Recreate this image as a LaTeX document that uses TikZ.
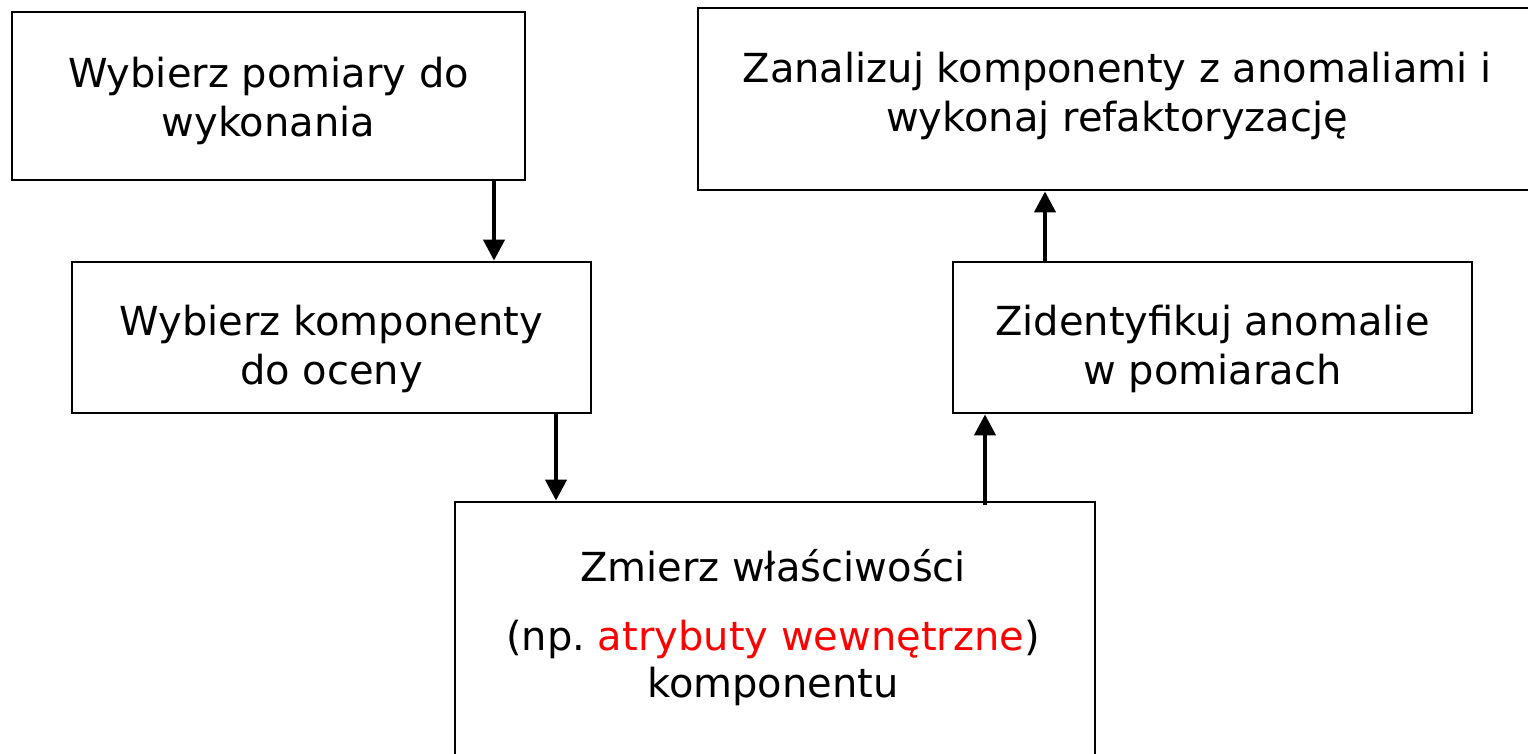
\documentclass[tikz,border=0pt]{standalone}
\usepackage{fontspec}
\setmainfont{DejaVu Sans}
\usetikzlibrary{arrows.meta}
\begin{document}
\begin{tikzpicture}[x=1pt,y=-1pt,
  box/.style={draw=black,line width=2.8pt,fill=white},
  txt/.style={align=center,inner sep=0pt,font=\fontsize{40}{49}\selectfont},
  arr/.style={line width=4.2pt,-{Triangle[length=21pt,width=21pt]}}]
\useasboundingbox (0,0) rectangle (1528,753);
\node[box,minimum width=513pt,minimum height=168pt] (b1) at (268.5,96) {};
\node[txt] (t1) at (268.5,101) {Wybierz pomiary do\\wykonania};
\node[box,minimum width=519pt,minimum height=151pt] (b2) at (331.5,337.5) {};
\node[txt] (t2) at (331.5,349) {Wybierz komponenty\\do oceny};
\node[box,minimum width=860pt,minimum height=182pt] (b3) at (1128,99) {};
\node[txt] (t3) at (1117,96) {Zanalizuj komponenty z anomaliami i\\wykonaj refaktoryzację};
\node[box,minimum width=519pt,minimum height=151pt] (b4) at (1212.5,337.5) {};
\node[txt] (t4) at (1212.5,349) {Zidentyfikuj anomalie\\w pomiarach};
\node[box,minimum width=640pt,minimum height=300pt] (b5) at (775,652) {};
\node[txt,font=\fontsize{40}{47}\selectfont] (t5) at (773,628) {Zmierz właściwości\\[22pt](np.\ \textcolor{red}{atrybuty wewnętrzne})\\komponentu};
\draw[arr] ([xshift=225.5pt]b1.south) -- ([xshift=162.5pt]b2.north);
\draw[arr] ([xshift=224.5pt]b2.south) -- ([xshift=-219pt]b5.north);
\draw[arr] ([xshift=210pt,yshift=-4pt]b5.north) -- ([xshift=-227.5pt]b4.south);
\draw[arr] ([xshift=-167.5pt]b4.north) -- ([xshift=-83pt]b3.south);
\end{tikzpicture}
\end{document}
